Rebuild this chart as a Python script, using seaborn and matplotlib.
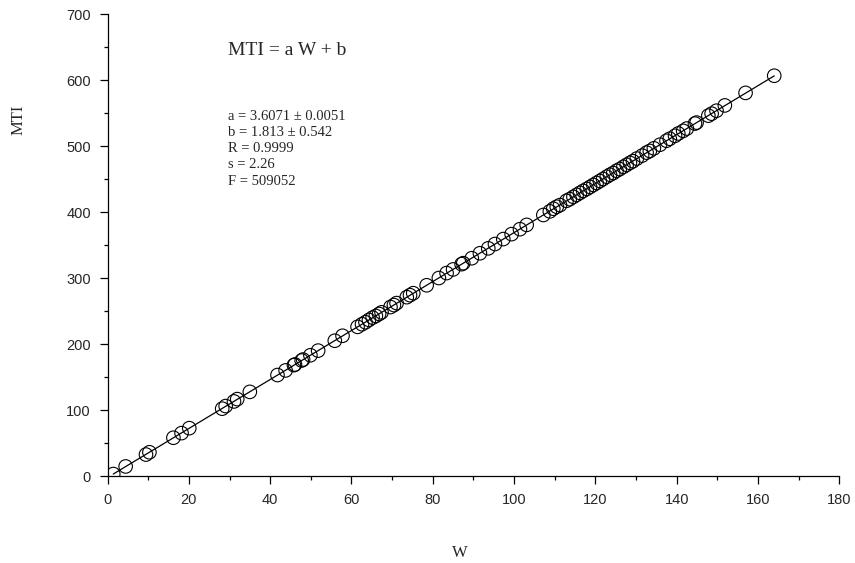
import numpy as np
import matplotlib
matplotlib.use("Agg")
import matplotlib.pyplot as plt
import seaborn as sns

# W (Wiener index) and MTI values
w_values = [1.4, 4.45, 9.45, 10.3, 16.2, 18.2, 20.1, 28.2, 29.05, 31.1, 31.9, 35.0,
            41.8, 43.8, 45.85, 46.1, 47.75, 48.1, 49.9, 51.8, 55.9, 57.8, 61.5,
            62.6, 63.45, 64.3, 65.2, 66.0, 66.8, 67.4, 69.6, 70.45, 71.1,
            73.6, 74.4, 75.2, 78.5, 81.5, 83.4, 85.0, 87.1, 87.5, 89.6, 91.6,
            93.65, 95.3, 97.35, 99.4, 101.45, 103.1, 107.2, 108.8, 109.65, 110.5,
            111.3, 112.9, 113.7, 114.6, 115.4, 116.2, 117.0, 117.9, 118.7, 119.5,
            120.3, 121.1, 121.9, 122.8, 123.6, 124.4, 125.2, 126.0, 126.9, 127.7,
            128.5, 129.25, 130.2, 131.5, 132.6, 133.4, 134.4, 135.9, 137.5, 138.3,
            139.6, 140.4, 141.6, 142.5, 144.5, 144.9, 147.8, 148.6, 149.8, 151.85,
            156.95, 164.0]
mti_values = [3.0, 14.5, 32.5, 36.0, 58.0, 65.0, 72.5, 102.0, 106.0, 113.0, 116.5, 127.5,
              153.0, 160.0, 168.0, 169.0, 175.0, 176.5, 183.0, 190.0, 205.0, 212.5, 226.0,
              230.0, 233.0, 236.5, 240.0, 242.5, 245.5, 248.0, 256.0, 259.0, 262.0,
              271.0, 274.0, 277.0, 289.0, 300.0, 307.5, 313.0, 321.0, 322.5, 330.0, 337.5,
              345.0, 351.5, 359.0, 366.5, 374.0, 380.5, 395.5, 401.0, 405.0, 408.0,
              410.5, 417.0, 419.5, 423.0, 426.0, 429.0, 432.0, 435.0, 438.0, 441.0,
              444.0, 447.0, 450.0, 453.5, 456.5, 459.0, 462.5, 465.0, 468.5, 471.5,
              474.5, 477.0, 481.0, 485.5, 490.0, 492.5, 496.5, 502.0, 508.0, 511.0,
              515.5, 519.0, 523.0, 526.5, 534.0, 535.5, 546.0, 549.0, 553.5, 561.5,
              580.5, 606.5]

fit_text = "MTI = a W + b"
stats_text = ["a = 3.6071 \u00b1 0.0051",
              "b = 1.813 \u00b1 0.542",
              "R = 0.9999",
              "s = 2.26",
              "F = 509052"]

x_ticks = [0, 20, 40, 60, 80, 100, 120, 140, 160, 180]
y_ticks = [0, 100, 200, 300, 400, 500, 600, 700]

sns.set_style("ticks")
plt.rcParams["font.family"] = ["Liberation Sans", "DejaVu Sans"]

fig = plt.figure(figsize=(8.55, 5.63), dpi=100)
ax = fig.add_axes([0.1258, 0.1545, 0.8558, 0.8206])

# open circles for the compounds
sns.scatterplot(x=w_values, y=mti_values, ax=ax, s=95, marker="o",
                facecolors="none", edgecolor="black", linewidth=0.8, zorder=3)
# least squares line
sns.regplot(x=w_values, y=mti_values, ax=ax, scatter=False, ci=None,
            color="black", line_kws={"linewidth": 0.9})

ax.set_xlim(0, 180)
ax.set_ylim(0, 700)
ax.set_xticks(x_ticks)
ax.set_yticks(y_ticks)
ax.set_xticks(np.arange(10, 180, 20), minor=True)
ax.set_yticks(np.arange(50, 700, 100), minor=True)
ax.tick_params(which="major", direction="out", length=6, width=0.9,
               labelsize=10.5, color="black", pad=6)
ax.tick_params(which="minor", direction="out", length=3, width=0.9, color="black")
sns.despine(ax=ax)
for sp in ["left", "bottom"]:
    ax.spines[sp].set_linewidth(0.9)
    ax.spines[sp].set_color("black")
ax.set_xlabel("")
ax.set_ylabel("")

ax.text(29.6, 645, fit_text, family="Liberation Serif", fontsize=14,
        va="center", ha="left")
ax.text(29.6, 555, "\n".join(stats_text), family="Liberation Serif",
        fontsize=10.5, va="top", ha="left", linespacing=1.32)

fig.text(0.022, 0.787, "MTI", family="Liberation Serif", fontsize=12,
         rotation=90, va="center", ha="center")
fig.text(0.538, 0.004, "W", family="Liberation Serif", fontsize=12,
         va="bottom", ha="center")

fig.savefig("out.png", dpi=100)
